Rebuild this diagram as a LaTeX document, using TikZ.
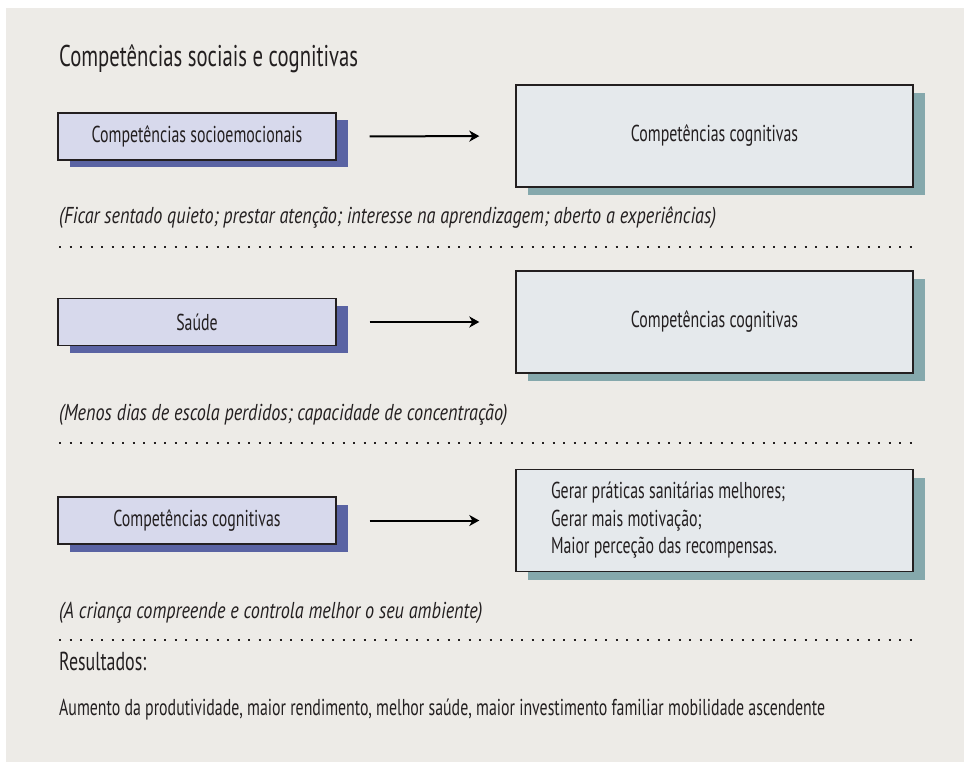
\documentclass[tikz,border=0pt]{standalone}
\usepackage{fontspec}
\setmainfont{PT Sans}[FakeStretch=0.69]
\newfontfamily\notefont{PT Sans}[FakeStretch=0.79]
\usepackage{tikz}
\usetikzlibrary{arrows.meta,shadows,positioning,calc}

\definecolor{panelgray}{HTML}{EDEBE7}
\definecolor{socfill}{HTML}{D7D9EC}
\definecolor{socshade}{HTML}{5A63A3}
\definecolor{cogfill}{HTML}{E5E9EC}
\definecolor{cogshade}{HTML}{85A8AC}
\definecolor{inkgray}{HTML}{231F20}

\newcommand{\boxfont}{\fontsize{23}{27.5}\selectfont}

\tikzset{
  smallbox/.style={draw=inkgray, line width=1.4pt, fill=socfill, text=inkgray,
    minimum width=278pt, minimum height=47pt, inner sep=0pt, font=\boxfont,
    general shadow={fill=socshade, shadow xshift=11.5pt, shadow yshift=-7.5pt}},
  bigbox/.style={draw=inkgray, line width=1.4pt, fill=cogfill, text=inkgray,
    minimum width=397pt, minimum height=102pt, inner sep=0pt, font=\boxfont,
    general shadow={fill=cogshade, shadow xshift=12pt, shadow yshift=-8pt}},
  listbox/.style={bigbox, text width=327pt, inner xsep=35pt, align=flush left},
  linkarrow/.style={-{Stealth[length=10pt,width=11pt,inset=3pt]}, line width=2pt,
    draw=black, shorten <=33pt, shorten >=36pt},
  dotline/.style={line width=2pt, dash pattern=on 2pt off 8.5pt, draw=inkgray},
  notetext/.style={anchor=base west, inner sep=0pt, text=inkgray, font=\boxfont\notefont\itshape},
  plaintext/.style={anchor=base west, inner sep=0pt, text=inkgray}
}

\begin{document}
\begin{tikzpicture}[x=1pt, y=-1pt]
\useasboundingbox (0,0) rectangle (964,762);
\fill[panelgray] (6,8) rectangle (964,762);

\node[plaintext, font=\fontsize{30}{34}\selectfont] (title) at (59,67) {Competências sociais e cognitivas};

% first row
\node[smallbox] (socio) at (197,136.5) {Competências socioemocionais};
\node[bigbox] (cogA) at (714.5,136) {Competências cognitivas};
\draw[linkarrow] (socio.east) -- (cogA.west);
\node[notetext] (noteA) at (59,224) {(Ficar sentado quieto; prestar atenção; interesse na aprendizagem; aberto a experiências)};
\draw[dotline] (59,247) -- (913,247);

% second row
\node[smallbox] (saude) at (197,322) {Saúde};
\node[bigbox] (cogB) at (714.5,322) {Competências cognitivas};
\draw[linkarrow] (saude.east) -- (cogB.west);
\node[notetext] (noteB) at (59,420) {(Menos dias de escola perdidos; capacidade de concentração)};
\draw[dotline] (59,443) -- (913,443);

% third row
\node[smallbox] (cogC) at (197,520.5) {Competências cognitivas};
\node[listbox] (gains) at (714.5,520.5) {Gerar práticas sanitárias melhores;\\ Gerar mais motivação;\\ Maior perceção das recompensas.};
\draw[linkarrow] (cogC.east) -- (gains.west);
\node[notetext] (noteC) at (59,618) {(A criança compreende e controla melhor o seu ambiente)};
\draw[dotline] (59,640) -- (913,640);

% results
\node[plaintext, font=\fontsize{26}{30}\selectfont] (resHead) at (59,670) {Resultados:};
\node[plaintext, font=\fontsize{23}{27}\selectfont] (resText) at (59,715) {Aumento da produtividade, maior rendimento, melhor saúde, maior investimento familiar mobilidade ascendente};
\end{tikzpicture}
\end{document}
